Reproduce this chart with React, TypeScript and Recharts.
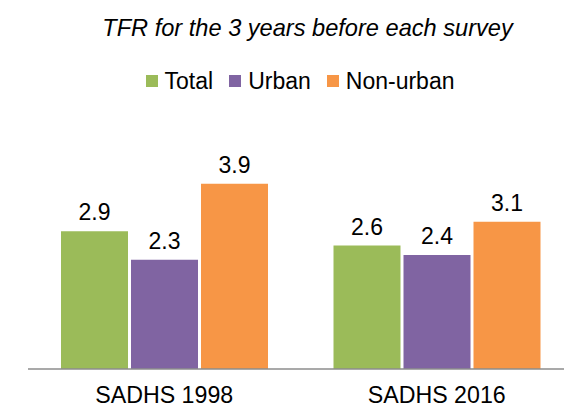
import { Bar, BarChart, LabelList, Legend, XAxis, YAxis } from "recharts";

const surveys = ["SADHS 1998", "SADHS 2016"];
const total = [2.9, 2.6];
const urban = [2.3, 2.4];
const nonUrban = [3.9, 3.1];

const series = [
  { key: "total", name: "Total", color: "#9BBB59" },
  { key: "urban", name: "Urban", color: "#8064A2" },
  { key: "nonUrban", name: "Non-urban", color: "#F79646" },
];

const rows = surveys.map((s, i) => ({
  x: s,
  total: total[i],
  urban: urban[i],
  nonUrban: nonUrban[i],
}));

const font = '"Liberation Sans", Arial, sans-serif';

function LegendRow() {
  return (
    <div style={{ display: "flex", justifyContent: "center", alignItems: "center", fontFamily: font, fontSize: 23, lineHeight: "26px", color: "#000" }}>
      {series.map((s, i) => (
        <div key={s.key} style={{ display: "flex", alignItems: "center", marginLeft: i ? 16 : 0 }}>
          <span style={{ width: 12, height: 12, background: s.color, marginRight: 7, display: "inline-block" }} />
          <span>{s.name}</span>
        </div>
      ))}
    </div>
  );
}

export default function App() {
  return (
    <div style={{ position: "absolute", left: 0, top: 0, width: 564, height: 410, overflow: "hidden", background: "#fff" }}>
      <div
        style={{
          position: "absolute",
          left: 0,
          top: 15,
          width: 615,
          textAlign: "center",
          fontFamily: font,
          fontStyle: "italic",
          fontSize: 23.6,
          color: "#000",
          whiteSpace: "nowrap",
        }}
      >
        TFR for the 3 years before each survey
      </div>
      <BarChart
        width={573}
        height={410}
        data={rows}
        margin={{ top: 131.5, right: 0, bottom: 0, left: 28 }}
        barSize={67}
        barGap={3}
      >
        <XAxis
          dataKey="x"
          height={41}
          tickLine={false}
          tickSize={0}
          tickMargin={18}
          axisLine={{ stroke: "#8c8c8c", strokeWidth: 1.5 }}
          tick={{ fill: "#000", fontSize: 23.2, fontFamily: font }}
        />
        <YAxis hide domain={[0, 5]} />
        <Legend
          verticalAlign="middle"
          align="center"
          layout="horizontal"
          wrapperStyle={{ top: 68, left: 0, width: 600 }}
          content={() => <LegendRow />}
        />
        {series.map((s) => (
          <Bar key={s.key} dataKey={s.key} name={s.name} fill={s.color} isAnimationActive={false}>
            <LabelList
              dataKey={s.key}
              position="top"
              offset={11}
              style={{ fill: "#000", fontSize: 23, fontFamily: font }}
            />
          </Bar>
        ))}
      </BarChart>
    </div>
  );
}
